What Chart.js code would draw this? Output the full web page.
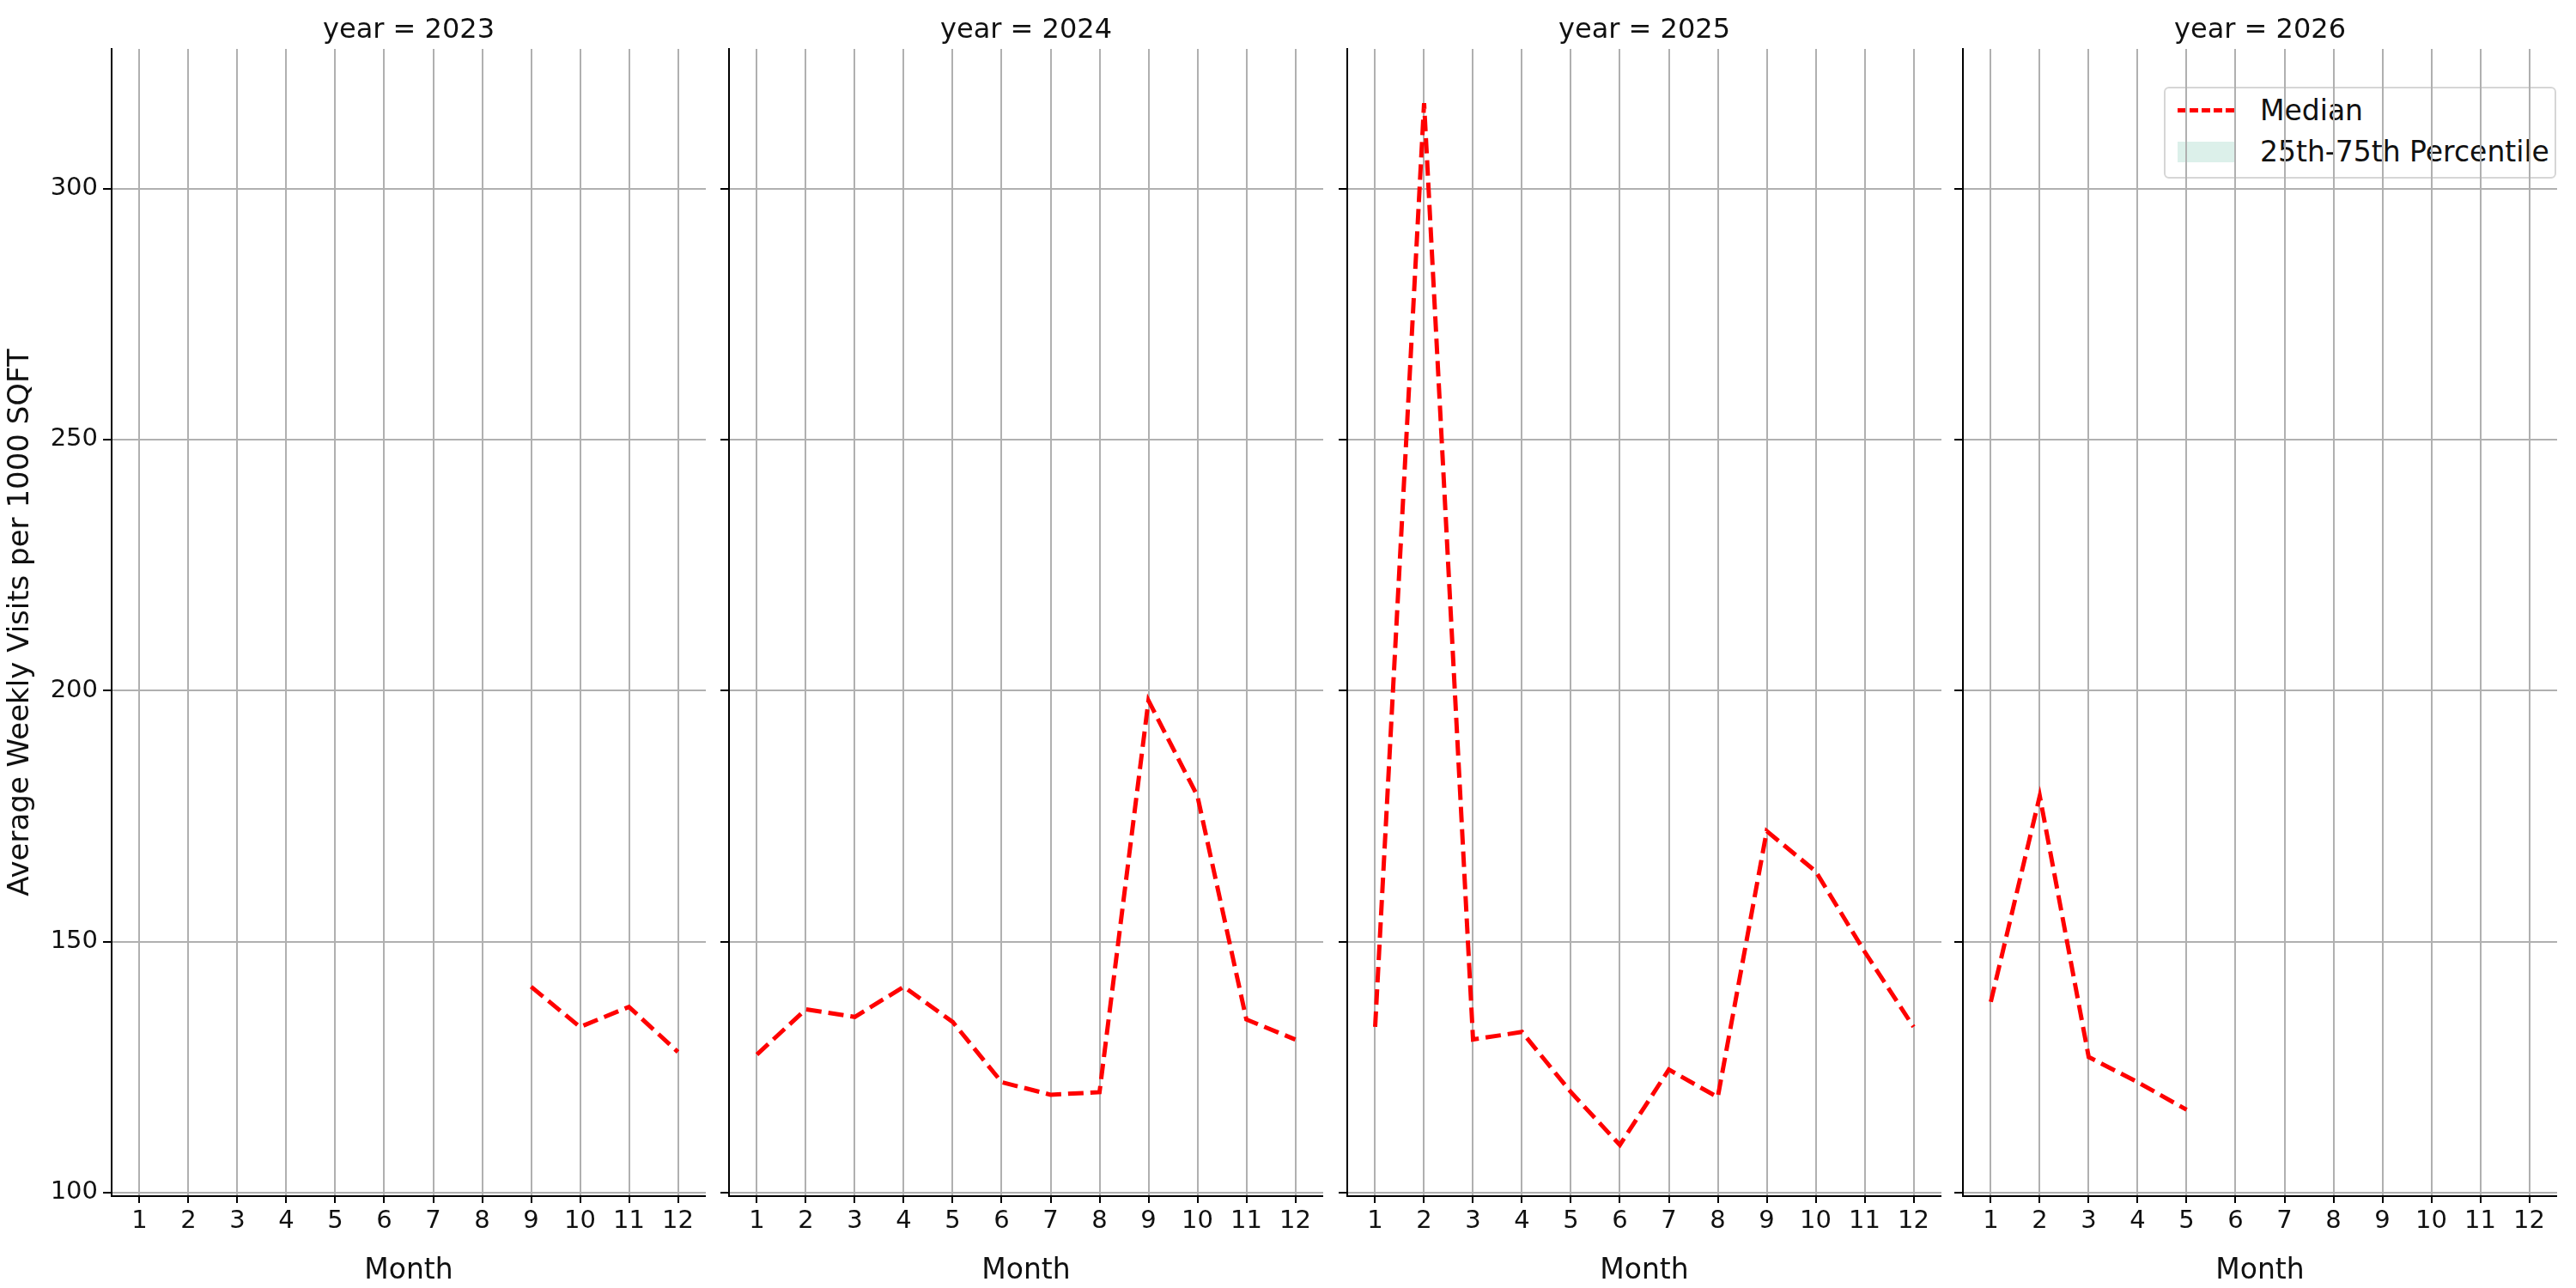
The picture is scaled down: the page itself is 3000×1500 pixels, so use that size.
<!DOCTYPE html>
<html><head><meta charset="utf-8">
<script src="https://cdn.jsdelivr.net/npm/chart.js@4"></script>
<style>
  body { margin: 0; background: #fff; font-family: "DejaVu Sans", sans-serif; }
  #wrap { position: relative; width: 3000px; height: 1500px; }
  .pane { position: absolute; top: 0; height: 1500px; }
  .ttl { position: absolute; top: 14px; font-size: 32px; color: #111; text-align: center; }
  #legend { position: absolute; left: 2520px; top: 101px; width: 457px; height: 107px;
            border: 2px solid #d6d6d6; border-radius: 6px; background: rgba(255,255,255,0.85);
            font-size: 33px; color: #111; box-sizing: border-box; }
  .lrow { position: absolute; left: 14px; display: flex; align-items: center; }
  .sw { width: 66px; height: 0; margin-right: 30px; }
</style></head>
<body><div id="wrap">
  <div id="legend">
    <div class="lrow" style="top:6px"><div class="sw" style="border-top:5px dashed #ff0000"></div>Median</div>
    <div class="lrow" style="top:54px"><div class="sw" style="height:24px;background:#dcf0ea"></div>25th-75th Percentile</div>
  </div>
</div>
<script>
const years = [2023, 2024, 2025, 2026];
const months = [1, 2, 3, 4, 5, 6, 7, 8, 9, 10, 11, 12];
const yTicks = [100, 150, 200, 250, 300];
const median2023 = [null, null, null, null, null, null, null, null, 141, 133, 137, 128];
const median2024 = [127.5, 136.5, 135, 141, 134, 122, 119.5, 120, 198, 179, 134.5, 130.5];
const median2025 = [133, 317, 130.5, 132, 120, 109.5, 124.5, 119, 172, 164, 148, 133];
const median2026 = [138, 179, 127, 122, 116.5, null, null, null, null, null, null, null];
const medians = [median2023, median2024, median2025, median2026];

const areaLeft = [130, 849, 1569, 2286];
const areaW = 692;
const wrap = document.getElementById('wrap');

years.forEach((yr, i) => {
  const yW = i === 0 ? 130 : 14;
  const div = document.createElement('div');
  div.className = 'pane';
  div.style.left = (areaLeft[i] - yW) + 'px';
  div.style.width = (areaW + yW) + 'px';
  const cv = document.createElement('canvas');
  div.appendChild(cv);
  wrap.appendChild(div);

  const t = document.createElement('div');
  t.className = 'ttl';
  t.style.left = areaLeft[i] + 'px';
  t.style.width = areaW + 'px';
  t.textContent = 'year = ' + yr;
  wrap.appendChild(t);

  const pts = months.map((m, k) => ({ x: m, y: medians[i][k] })).filter(p => p.y !== null);

  new Chart(cv, {
    type: 'line',
    data: { datasets: [{
      data: pts, borderColor: '#ff0000', borderWidth: 5, borderDash: [18, 8],
      pointRadius: 0, tension: 0, fill: false,
    }]},
    options: {
      animation: false, responsive: true, maintainAspectRatio: false,
      layout: { padding: { top: 57, right: 0, left: 0, bottom: 0 } },
      plugins: { legend: { display: false }, tooltip: { enabled: false } },
      scales: {
        x: {
          type: 'linear', min: 0.43, max: 12.57,
          afterBuildTicks: s => { s.ticks = months.map(v => ({ value: v })); },
          afterFit: s => { s.height = 107; },
          ticks: { color: '#111', font: { size: 29, family: 'DejaVu Sans' }, padding: 4 },
          grid: { color: '#b0b0b0', lineWidth: 2, tickColor: '#000', tickLength: 8 },
          border: { color: '#000', width: 2 },
          title: { display: true, text: 'Month', color: '#111', font: { size: 33, family: 'DejaVu Sans' }, padding: 0 },
        },
        y: {
          min: 99.3, max: 327.8,
          afterBuildTicks: s => { s.ticks = yTicks.map(v => ({ value: v })); },
          afterFit: s => { s.width = yW; },
          ticks: { display: i === 0, color: '#111', font: { size: 29, family: 'DejaVu Sans' }, padding: 6 },
          grid: { color: '#b0b0b0', lineWidth: 2, tickColor: '#000', tickLength: 10 },
          border: { color: '#000', width: 2 },
          title: { display: i === 0, text: 'Average Weekly Visits per 1000 SQFT', color: '#111',
                   font: { size: 34, family: 'DejaVu Sans' }, padding: 4 },
        },
      },
    },
  });
});
</script></body></html>
